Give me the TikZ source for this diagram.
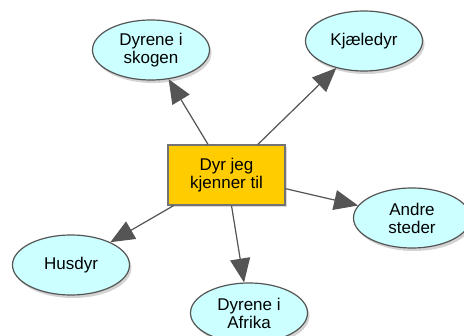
\documentclass[tikz,border=0pt]{standalone}
\usepackage{fontspec}
\setmainfont{Liberation Sans}
\usetikzlibrary{shapes.geometric, arrows.meta, shadows}
\definecolor{conceptcyan}{HTML}{CCFFFF}
\definecolor{rootgold}{HTML}{FFCC00}
\definecolor{linkgray}{HTML}{555555}

\begin{document}
\begin{tikzpicture}[x=1pt, y=-1pt,
    concept/.style={ellipse, draw=linkgray, line width=1.2pt, fill=conceptcyan,
        minimum width=117pt, minimum height=60pt, inner sep=0pt, align=center,
        font=\fontsize{17}{18}\selectfont,
        drop shadow={shadow xshift=2pt, shadow yshift=-3pt, opacity=0.35, fill=gray}},
    root/.style={rectangle, draw=gray!90!black, line width=1.2pt, fill=rootgold,
        minimum width=117pt, minimum height=60pt, inner sep=0pt, align=center,
        font=\fontsize{17}{18}\selectfont,
        drop shadow={shadow xshift=2pt, shadow yshift=-2pt, opacity=0.3, fill=gray}},
    link/.style={-{Triangle[length=24pt, width=20pt]}, draw=linkgray, fill=linkgray, line width=1.2pt}]
    \useasboundingbox (0,0) rectangle (464,336);

    % Centre concept
    \node[root] (dyr) at (226.5,175) {Dyr jeg\\kjenner til};

    % Surrounding concepts
    \node[concept] (skogen) at (151,50) {Dyrene i\\skogen};
    \node[concept] (kjaeledyr) at (364,41) {Kjæledyr};
    \node[concept] (andre) at (412,218) {Andre\\steder};
    \node[concept] (husdyr) at (71,265) {Husdyr};
    \node[concept] (afrika) at (249,313) {Dyrene i\\Afrika};

    % Links
    \draw[link] (dyr) -- (skogen);
    \draw[link] (dyr) -- (kjaeledyr);
    \draw[link] (dyr) -- (andre);
    \draw[link] (dyr) -- (husdyr);
    \draw[link] (dyr) -- (afrika);
\end{tikzpicture}
\end{document}
